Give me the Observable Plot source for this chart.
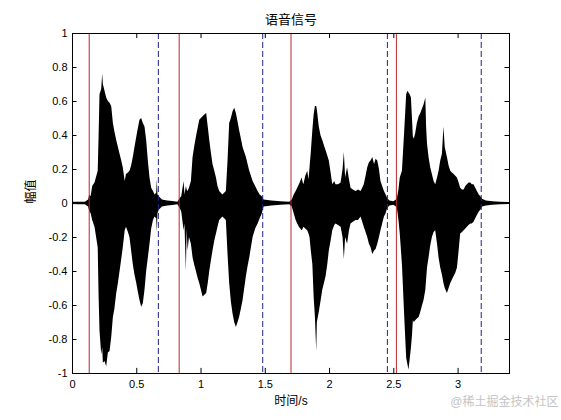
<!DOCTYPE html>
<html><head><meta charset="utf-8">
<script src="https://cdn.jsdelivr.net/npm/d3@7"></script>
<script src="https://cdn.jsdelivr.net/npm/@observablehq/plot@0.6"></script>
<style>body{margin:0;background:#fff} svg{display:block}</style>
</head><body><div id="chart"></div>
<script>
const title = "语音信号";
const xLabel = "时间/s";
const yLabel = "幅值";
const watermark = "@稀土掘金技术社区";
const xTicks = [0, 0.5, 1, 1.5, 2, 2.5, 3];
const xTickLabels = ["0", "0.5", "1", "1.5", "2", "2.5", "3"];
const yTicks = [-1, -0.8, -0.6, -0.4, -0.2, 0, 0.2, 0.4, 0.6, 0.8, 1];
const yTickLabels = ["-1", "-0.8", "-0.6", "-0.4", "-0.2", "0", "0.2", "0.4", "0.6", "0.8", "1"];
const segStarts = [0.13, 0.83, 1.70, 2.52];
const segEnds = [0.668, 1.48, 2.45, 3.18];

const time = [0.00,0.05,0.10,0.125,0.135,0.145,0.157,0.175,0.20,0.207,0.214,0.227,0.235,0.24,0.253,0.266,0.279,0.292,0.305,0.318,0.33,0.344,0.357,0.37,0.383,0.395,0.41,0.42,0.435,0.447,0.46,0.473,0.486,0.50,0.512,0.525,0.538,0.551,0.564,0.577,0.59,0.603,0.616,0.63,0.642,0.655,0.66,0.665,0.675,0.70,0.74,0.78,0.82,
0.838,0.85,0.868,0.875,0.886,0.892,0.899,0.91,0.925,0.938,0.95,0.964,0.977,0.99,1.003,1.016,1.03,1.044,1.056,1.068,1.08,1.093,1.107,1.12,1.132,1.145,1.17,1.197,1.21,1.223,1.236,1.249,1.262,1.275,1.288,1.30,1.314,1.327,1.34,1.353,1.366,1.379,1.392,1.405,1.425,1.444,1.46,1.477,1.49,1.55,1.62,1.69,
1.71,1.725,1.74,1.752,1.765,1.776,1.786,1.795,1.80,1.815,1.83,1.84,1.848,1.858,1.87,1.88,1.89,1.90,1.905,1.92,1.933,1.947,1.96,1.973,1.986,1.998,2.012,2.025,2.04,2.05,2.07,2.09,2.105,2.115,2.125,2.14,2.155,2.167,2.185,2.206,2.225,2.245,2.258,2.27,2.284,2.297,2.31,2.323,2.336,2.35,2.362,2.375,2.388,2.40,2.413,2.427,2.44,2.452,2.47,2.50,
2.52,2.528,2.54,2.55,2.567,2.585,2.60,2.61,2.618,2.627,2.637,2.645,2.652,2.66,2.67,2.683,2.697,2.71,2.72,2.735,2.749,2.755,2.762,2.774,2.787,2.80,2.813,2.826,2.84,2.852,2.865,2.878,2.89,2.90,2.917,2.93,2.943,2.956,2.969,2.982,2.995,3.008,3.02,3.034,3.047,3.06,3.072,3.085,3.099,3.11,3.124,3.137,3.15,3.165,3.177,3.19,3.22,3.27,3.33,3.40];

const upper = [0.007,0.008,0.007,0.02,0.05,0.04,0.10,0.12,0.19,0.40,0.64,0.67,0.76,0.70,0.66,0.62,0.60,0.59,0.57,0.47,0.42,0.37,0.33,0.29,0.25,0.21,0.13,0.17,0.18,0.19,0.22,0.27,0.33,0.39,0.44,0.49,0.50,0.47,0.45,0.37,0.25,0.15,0.09,0.07,0.05,0.06,0.14,0.05,0.04,0.02,0.015,0.012,0.008,
0.03,0.04,0.13,0.05,0.10,0.08,0.07,0.09,0.13,0.27,0.33,0.39,0.44,0.49,0.50,0.51,0.52,0.53,0.45,0.37,0.30,0.23,0.19,0.15,0.10,0.07,0.05,0.07,0.25,0.47,0.50,0.54,0.56,0.53,0.48,0.43,0.38,0.33,0.30,0.27,0.23,0.19,0.16,0.13,0.10,0.07,0.05,0.04,0.02,0.015,0.01,0.008,
0.02,0.05,0.07,0.09,0.11,0.13,0.15,0.12,0.11,0.16,0.19,0.14,0.21,0.30,0.43,0.52,0.57,0.57,0.55,0.45,0.40,0.37,0.34,0.31,0.28,0.25,0.18,0.11,0.13,0.11,0.11,0.12,0.20,0.30,0.15,0.21,0.14,0.09,0.08,0.07,0.08,0.07,0.09,0.11,0.16,0.21,0.24,0.25,0.27,0.23,0.26,0.25,0.20,0.13,0.10,0.07,0.05,0.03,0.015,0.01,
0.02,0.03,0.08,0.15,0.19,0.43,0.64,0.66,0.65,0.64,0.62,0.50,0.39,0.38,0.41,0.47,0.51,0.53,0.55,0.58,0.62,0.45,0.35,0.27,0.21,0.17,0.13,0.11,0.15,0.19,0.25,0.29,0.45,0.33,0.27,0.22,0.19,0.18,0.17,0.16,0.15,0.12,0.09,0.08,0.08,0.10,0.11,0.12,0.12,0.11,0.11,0.09,0.07,0.05,0.04,0.025,0.015,0.01,0.008,0.006];

const lower = [-0.006,-0.007,-0.008,-0.02,-0.05,-0.06,-0.10,-0.14,-0.26,-0.55,-0.75,-0.89,-0.85,-0.94,-0.93,-0.96,-0.88,-0.87,-0.79,-0.67,-0.62,-0.53,-0.47,-0.40,-0.33,-0.26,-0.16,-0.14,-0.17,-0.20,-0.28,-0.36,-0.42,-0.47,-0.52,-0.57,-0.61,-0.59,-0.51,-0.40,-0.32,-0.24,-0.15,-0.10,-0.08,-0.09,-0.17,-0.06,-0.04,-0.02,-0.015,-0.012,-0.008,
-0.03,-0.05,-0.16,-0.12,-0.40,-0.15,-0.28,-0.20,-0.24,-0.32,-0.36,-0.40,-0.44,-0.47,-0.51,-0.55,-0.54,-0.53,-0.47,-0.40,-0.34,-0.28,-0.22,-0.18,-0.14,-0.10,-0.08,-0.10,-0.30,-0.47,-0.58,-0.65,-0.70,-0.73,-0.70,-0.67,-0.62,-0.57,-0.50,-0.43,-0.37,-0.32,-0.26,-0.20,-0.15,-0.12,-0.09,-0.06,-0.02,-0.015,-0.01,-0.008,
-0.02,-0.06,-0.10,-0.12,-0.14,-0.15,-0.16,-0.15,-0.14,-0.15,-0.16,-0.18,-0.20,-0.28,-0.36,-0.55,-0.67,-0.87,-0.70,-0.64,-0.58,-0.51,-0.47,-0.43,-0.36,-0.28,-0.22,-0.16,-0.13,-0.12,-0.13,-0.14,-0.20,-0.33,-0.20,-0.24,-0.16,-0.12,-0.11,-0.10,-0.10,-0.08,-0.11,-0.14,-0.17,-0.20,-0.24,-0.26,-0.30,-0.28,-0.27,-0.24,-0.20,-0.16,-0.12,-0.08,-0.06,-0.03,-0.015,-0.01,
-0.02,-0.03,-0.10,-0.18,-0.36,-0.67,-0.91,-0.95,-0.98,-0.92,-0.85,-0.78,-0.69,-0.70,-0.69,-0.68,-0.67,-0.64,-0.61,-0.57,-0.51,-0.45,-0.38,-0.32,-0.25,-0.20,-0.17,-0.16,-0.24,-0.32,-0.38,-0.42,-0.47,-0.50,-0.53,-0.50,-0.47,-0.45,-0.43,-0.41,-0.38,-0.28,-0.18,-0.17,-0.16,-0.15,-0.14,-0.13,-0.12,-0.12,-0.11,-0.09,-0.07,-0.05,-0.04,-0.02,-0.015,-0.01,-0.008,-0.006];

const rows = time.map((t, i) => ({t, hi: upper[i], lo: lower[i]}));
const fmt = (ticks, labels) => d => labels[ticks.findIndex(v => Math.abs(v - d) < 1e-9)];
const xMax = 3.4;
const tlY = 0.03, tlX = 0.035;

const chart = Plot.plot({
  width: 561, height: 420,
  marginLeft: 72, marginRight: 52, marginTop: 33, marginBottom: 47,
  x: {domain: [0, xMax]},
  y: {domain: [-1, 1]},
  style: {fontFamily: "'Liberation Sans','Noto Sans CJK SC',sans-serif", fontSize: "11px", background: "white", color: "black"},
  marks: [
    Plot.areaY(rows, {x: "t", y1: "lo", y2: "hi", fill: "black", curve: "linear"}),
    Plot.ruleX(segStarts, {stroke: "#b82828", strokeWidth: 1}),
    Plot.ruleX(segEnds, {stroke: "#22228a", strokeWidth: 1, strokeDasharray: "6,3"}),
    Plot.frame({stroke: "black", strokeWidth: 1}),
    Plot.ruleX(xTicks, {y1: -1, y2: -1 + tlY, stroke: "black"}),
    Plot.ruleX(xTicks, {y1: 1 - tlY, y2: 1, stroke: "black"}),
    Plot.ruleY(yTicks, {x1: 0, x2: tlX, stroke: "black"}),
    Plot.ruleY(yTicks, {x1: xMax - tlX, x2: xMax, stroke: "black"}),
    Plot.axisX({ticks: xTicks, tickSize: 0, tickPadding: 7, tickFormat: fmt(xTicks, xTickLabels), label: null}),
    Plot.axisY({ticks: yTicks, tickSize: 0, tickPadding: 5, tickFormat: fmt(yTicks, yTickLabels), label: null}),
    Plot.text([title], {text: d => d, frameAnchor: "top", dy: -19, fontSize: 13}),
    Plot.text([yLabel], {text: d => d, frameAnchor: "left", dx: -41, rotate: -90, fontSize: 12}),
    Plot.text([xLabel], {text: d => d, frameAnchor: "bottom", dy: 31, fontSize: 12}),
    Plot.text([watermark], {text: d => d, frameAnchor: "bottom-right", dx: 49, dy: 32, textAnchor: "end", fill: "#c4c4c4", fontSize: 12})
  ]
});
document.getElementById("chart").appendChild(chart);
</script>
</body></html>
